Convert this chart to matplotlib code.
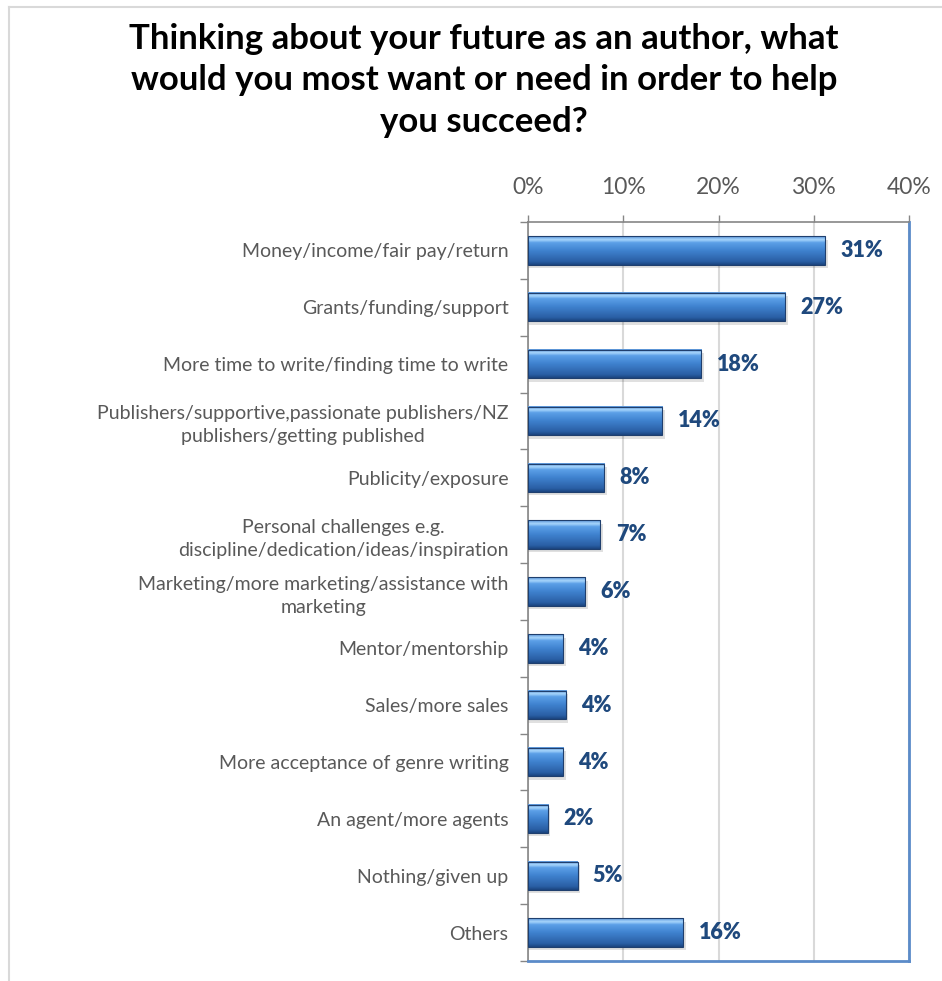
import numpy as np
import matplotlib.pyplot as plt
from matplotlib.colors import LinearSegmentedColormap

# data
categories = [
    "Money/income/fair pay/return",
    "Grants/funding/support",
    "More time to write/finding time to write",
    "Publishers/supportive,passionate publishers/NZ\npublishers/getting published",
    "Publicity/exposure",
    "Personal challenges e.g.\ndiscipline/dedication/ideas/inspiration",
    "Marketing/more marketing/assistance with\nmarketing",
    "Mentor/mentorship",
    "Sales/more sales",
    "More acceptance of genre writing",
    "An agent/more agents",
    "Nothing/given up",
    "Others",
]
values = [31.2, 27.0, 18.2, 14.1, 8.0, 7.6, 6.0, 3.7, 4.0, 3.7, 2.1, 5.2, 16.3]
value_labels = ["31%", "27%", "18%", "14%", "8%", "7%", "6%", "4%", "4%", "4%", "2%", "5%", "16%"]
xticks = [0, 10, 20, 30, 40]

plt.rcParams['font.family'] = ['Lato', 'DejaVu Sans']

fig = plt.figure(figsize=(9.42, 9.81), dpi=100)

# light frame around the chart
fig.add_artist(plt.Line2D([0.0096, 0.0096], [0, 0.993], color='#d9d9d9', lw=1.5))
fig.add_artist(plt.Line2D([0.0096, 1.0], [0.993, 0.993], color='#d9d9d9', lw=1.5))

fig.text(0.514, 0.977, "Thinking about your future as an author, what\nwould you most want or need in order to help\nyou succeed?",
         ha='center', va='top', fontsize=25, fontweight='bold', linespacing=1.38)

ax = fig.add_axes([0.5605, 0.0204, 0.4045, 0.7533])

n = len(categories)
ypos = np.arange(n)
bar_h = 0.5

cmap = LinearSegmentedColormap.from_list('bevel', [
    (0.0, '#1b4580'), (0.12, '#2a5fa5'), (0.5, '#3f82cf'),
    (0.78, '#5ca0e8'), (0.88, '#a8d6fc'), (1.0, '#5a96da')])
grad = np.linspace(0, 1, 64).reshape(-1, 1)

for y, v in zip(ypos, values):
    # soft shadow
    ax.barh(y + 0.06, v + 0.25, height=bar_h, color='#000000', alpha=0.12, zorder=2, lw=0)
    ax.imshow(grad, cmap=cmap, aspect='auto', origin='upper',
              extent=(0, v, y - bar_h / 2, y + bar_h / 2), zorder=3)
    ax.barh(y, v, height=bar_h, fill=False, edgecolor='#1f3f6e', lw=0.8, zorder=4)

for y, v, lab in zip(ypos, values, value_labels):
    ax.text(v + 1.6, y, lab, va='center', ha='left', fontsize=15.5,
            fontweight='heavy', color='#1f497d')

ax.set_xlim(0, 40)
ax.set_ylim(n - 0.5, -0.5)
ax.set_xticks(xticks)
ax.set_xticklabels([f"{t}%" for t in xticks])
ax.xaxis.tick_top()
ax.tick_params(axis='x', colors='#868686', labelcolor='#595959', labelsize=16.5,
               length=5, width=1, pad=12, direction='out')
ax.grid(axis='x', color='#d9d9d9', lw=1.5, zorder=0)
ax.set_axisbelow(True)

ax.set_yticks(ypos)
ax.set_yticklabels(categories, fontsize=14, color='#595959', multialignment='center',
                   linespacing=1.4)
ax.tick_params(axis='y', length=0, pad=14)
ax.set_yticks(np.arange(n + 1) - 0.5, minor=True)
ax.tick_params(axis='y', which='minor', length=6, width=1, color='#868686', direction='out')

for s in ['top', 'left']:
    ax.spines[s].set_color('#868686')
    ax.spines[s].set_linewidth(1.2)
for s in ['right', 'bottom']:
    ax.spines[s].set_color('#5b8bc9')
    ax.spines[s].set_linewidth(2)

fig.savefig('out.png', dpi=100)
